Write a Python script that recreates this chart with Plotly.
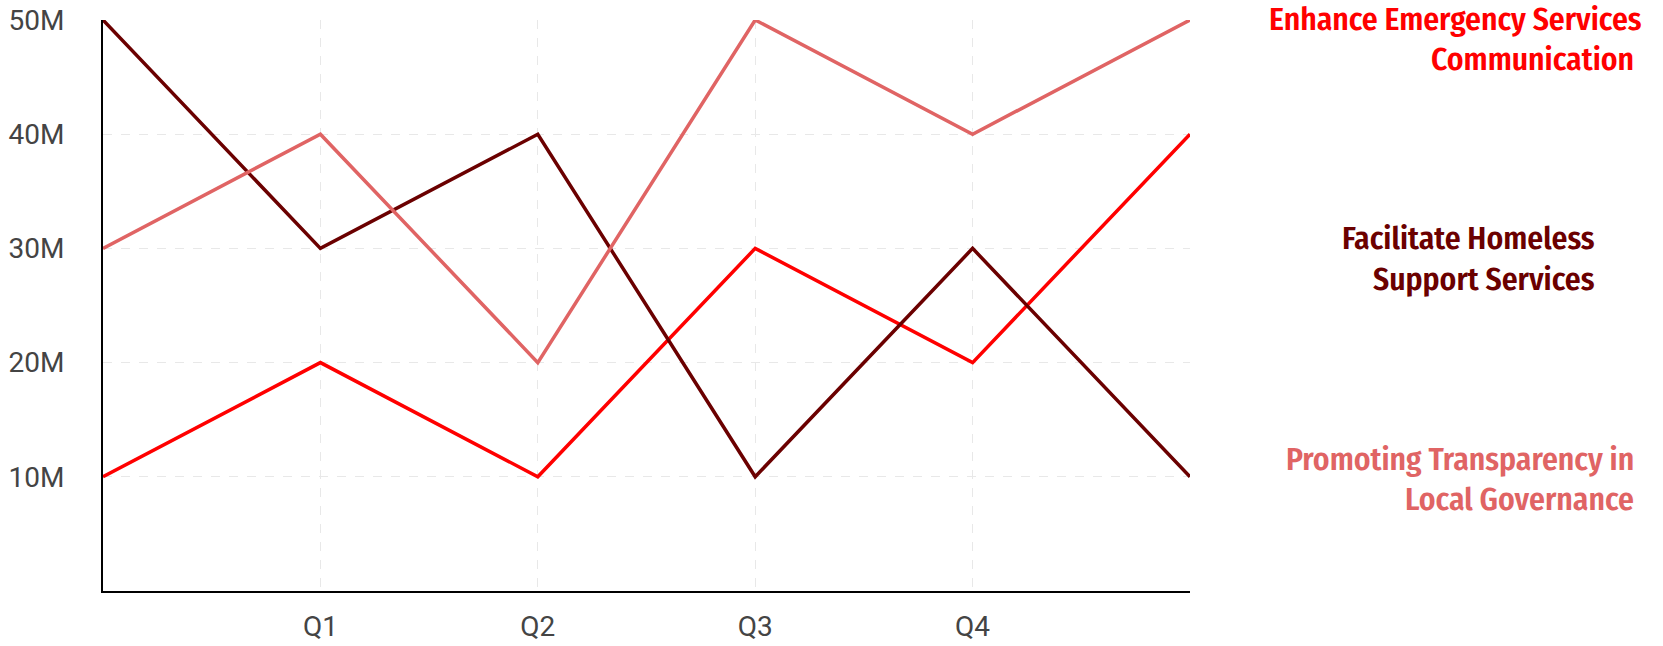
import plotly.graph_objects as go

x_pos = [0, 1, 2, 3, 4, 5]
tick_vals = [1, 2, 3, 4]
tick_text = ["Q1", "Q2", "Q3", "Q4"]

series_names = [
    "Enhance Emergency Services<br>Communication",
    "Facilitate Homeless<br>Support Services",
    "Promoting Transparency in<br>Local Governance",
]
emergency = [10e6, 20e6, 10e6, 30e6, 20e6, 40e6]
homeless = [50e6, 30e6, 40e6, 10e6, 30e6, 10e6]
transparency = [30e6, 40e6, 20e6, 50e6, 40e6, 50e6]
colors = ["#ff0000", "#6b0000", "#e06464"]

y_ticks = [10e6, 20e6, 30e6, 40e6, 50e6]
y_tick_text = ["10M", "20M", "30M", "40M", "50M"]

L, R, T, B = 103, 1190, 19.5, 591

fig = go.Figure()
for vals, c, n in zip([emergency, homeless, transparency], colors, series_names):
    fig.add_trace(go.Scatter(x=x_pos, y=vals, mode="lines", name=n,
                             line=dict(color=c, width=3.5), showlegend=False,
                             cliponaxis=False))

label_font = "Fira Sans Condensed, Liberation Sans Narrow, DejaVu Sans Condensed, sans-serif"
# per-line (right edge px, visible centre px)
line_pos = [
    [(1644, 18.5), (1636, 59)],
    [(1597, 238), (1597, 279)],
    [(1636, 459), (1636, 499)],
]
for n, c, lines in zip(series_names, colors, line_pos):
    for part, (px, py) in zip(n.split("<br>"), lines):
        fig.add_annotation(text=part, xref="paper", yref="paper",
                           x=(px - L) / (R - L), y=1 - (py - T) / (B - T),
                           xanchor="right", yanchor="middle", align="right",
                           showarrow=False,
                           font=dict(family=label_font, size=31.5, color=c, weight=600))

fig.update_layout(
    width=1663, height=646,
    margin=dict(l=L, r=1663 - R, t=T, b=646 - B, autoexpand=False),
    plot_bgcolor="white", paper_bgcolor="white",
    font=dict(family="Roboto, sans-serif", size=28, color="#444444"),
    xaxis=dict(range=[0, 5], tickvals=tick_vals, ticktext=tick_text,
               showgrid=True, gridcolor="#e8e8e8", griddash="dash", gridwidth=1,
               showline=True, linecolor="black", linewidth=2, zeroline=False,
               ticks="", ticklen=0, automargin=False, ticklabelstandoff=9,
               tickfont=dict(size=28, color="#444444")),
    yaxis=dict(range=[0, 50e6], tickvals=y_ticks, ticktext=y_tick_text,
               showgrid=True, gridcolor="#e8e8e8", griddash="dash", gridwidth=1,
               showline=True, linecolor="black", linewidth=2, zeroline=False,
               ticks="", automargin=False, ticklabelstandoff=31,
               tickfont=dict(size=28, color="#444444")),
)

fig.write_html("out.html")
